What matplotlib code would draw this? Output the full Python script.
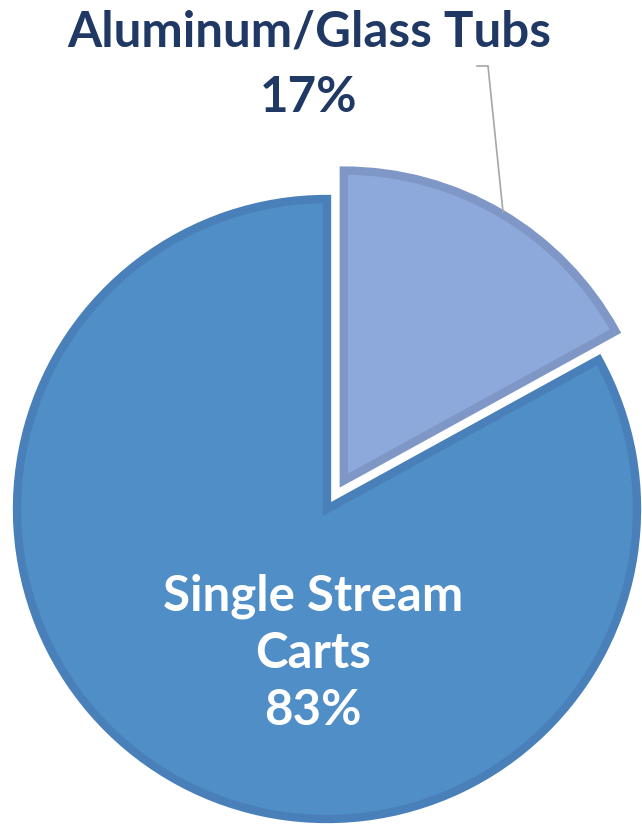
import matplotlib
matplotlib.use("Agg")
import matplotlib.pyplot as plt

# bin type shares
labels = ["Aluminum/Glass Tubs", "Single Stream\nCarts"]
shares = [17, 83]
fills = ["#8DA8DB", "#508EC8"]
edges = ["#7F97C6", "#4A80BA"]

plt.rcParams["font.family"] = ["Lato", "DejaVu Sans"]

W, H = 642, 826
fig = plt.figure(figsize=(W / 100, H / 100), dpi=100)
ax = fig.add_axes([0, 0, 1, 1])

# pie is laid out in pixel units, y measured from the bottom
cx, cy, r = 327, 317, 310
wedges, _ = ax.pie(shares, startangle=90, counterclock=False,
                   colors=fills, center=(cx, cy), radius=r,
                   explode=[33, 0],
                   wedgeprops=dict(linewidth=6, joinstyle="miter"))
for w, ec in zip(wedges, edges):
    w.set_edgecolor(ec)

ax.set_xlim(0, W)
ax.set_ylim(0, H)
ax.set_aspect("equal")
ax.axis("off")

# outside label for the small slice with leader line
ax.text(309, H - 32, labels[0], ha="center", va="center",
        fontsize=35.5, fontweight="bold", color="#1F3864")
ax.text(309, H - 97, f"{shares[0]}%", ha="center", va="center",
        fontsize=35.5, fontweight="bold", color="#1F3864")
ax.plot([477, 488, 503], [H - 66, H - 66, H - 212], color="#A6A6A6",
        linewidth=1.2, solid_joinstyle="miter")

# inside label for the large slice
ax.text(313, H - 653, f"{labels[1]}\n{shares[1]}%", ha="center",
        va="center", fontsize=35.5, fontweight="bold", color="white",
        linespacing=1.33)

fig.savefig("out.png", dpi=100)
